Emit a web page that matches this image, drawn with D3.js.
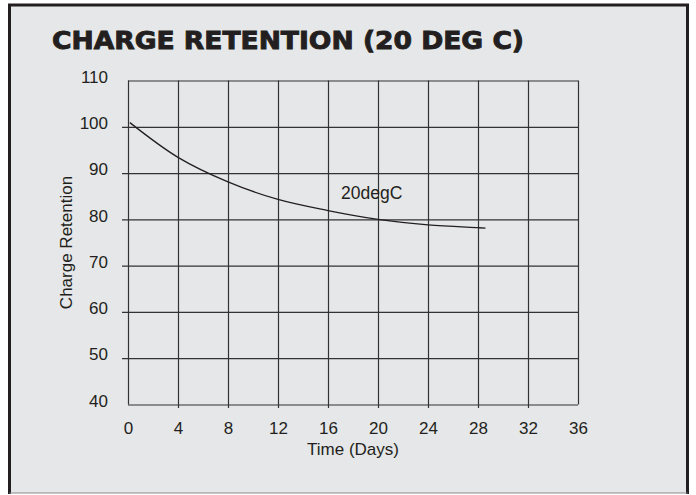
<!DOCTYPE html>
<html>
<head>
<meta charset="utf-8">
<script src="https://cdn.jsdelivr.net/npm/d3@7"></script>
<style>
  html, body { margin: 0; padding: 0; background: #fff; }
  svg { display: block; }
</style>
</head>
<body>
<div id="chart"></div>
<script>
// values
const days = [0.15, 4, 8, 12, 16, 20, 24, 28, 28.6];
const retention = [100.9, 93.4, 88.1, 84.3, 81.9, 80.0, 78.8, 78.2, 78.1];
const xTicks = [0, 4, 8, 12, 16, 20, 24, 28, 32, 36];
const yTicks = [40, 50, 60, 70, 80, 90, 100, 110];
const seriesName = "20degC";
const title = "CHARGE RETENTION (20 DEG C)";

const width = 696, height = 495;
const plot = { left: 128, right: 578, top: 80.5, bottom: 404.5 };
const ink = "#231f20";
const bodyFont = "'Liberation Sans', Arial, sans-serif";

const svg = d3.select("#chart").append("svg").attr("width", width).attr("height", height)
  .attr("font-family", bodyFont);

// panel + frame
svg.append("rect").attr("x", 9.5).attr("y", 5).attr("width", 678).attr("height", 488).attr("fill", "#e6e7e8");
svg.append("path").attr("d", "M9.5,494 V5 H687.5 V494").attr("fill", "none").attr("stroke", ink).attr("stroke-width", 3);
svg.append("line").attr("x1", 9.5).attr("x2", 687.5).attr("y1", 493).attr("y2", 493).attr("stroke", "#8a8a8a").attr("stroke-width", 1.2);

svg.append("text").attr("x", 52).attr("y", 49)
  .attr("font-family", "'DejaVu Sans', sans-serif").attr("font-weight", "bold").attr("font-size", 24)
  .attr("fill", ink).attr("stroke", ink).attr("stroke-width", 0.9)
  .attr("textLength", 472).attr("lengthAdjust", "spacingAndGlyphs")
  .text(title);

const x = d3.scaleLinear().domain([0, 36]).range([plot.left, plot.right]);
const y = d3.scaleLinear().domain([40, 110]).range([plot.bottom, plot.top]);

// y grid + labels
const yAxis = svg.append("g").attr("transform", `translate(${plot.left - 6},0)`)
  .call(d3.axisLeft(y).tickValues(yTicks).tickSize(-(plot.right - plot.left + 6)).tickPadding(14));
yAxis.select(".domain").remove();
yAxis.selectAll(".tick line").attr("stroke", "#333").attr("stroke-width", 1.2)
  .attr("x1", d => (d === 40 || d === 110) ? 6 : 0);
yAxis.selectAll(".tick text").attr("font-size", 17).attr("font-family", bodyFont)
  .attr("fill", ink).attr("dy", "0.1em");

// x grid + labels
const xAxis = svg.append("g").attr("transform", `translate(0,${plot.bottom + 3.5})`)
  .call(d3.axisBottom(x).tickValues(xTicks).tickSize(-(plot.bottom + 3.5 - plot.top)).tickPadding(14));
xAxis.select(".domain").remove();
xAxis.selectAll(".tick line").attr("stroke", "#333").attr("stroke-width", 1.2)
  .attr("y1", d => (d === 0 || d === 36) ? -3.5 : 0);
xAxis.selectAll(".tick text").attr("font-size", 17).attr("font-family", bodyFont)
  .attr("fill", ink);

// axis titles
svg.append("text").attr("x", (plot.left + plot.right) / 2).attr("y", 455)
  .attr("text-anchor", "middle").attr("font-size", 17).attr("fill", ink).text("Time (Days)");
svg.append("text").attr("transform", `translate(72,${(plot.top + plot.bottom) / 2}) rotate(-90)`)
  .attr("text-anchor", "middle").attr("font-size", 17).attr("fill", ink).text("Charge Retention");

// curve
const pts = days.map((d, i) => [d, retention[i]]);
svg.append("path").datum(pts)
  .attr("fill", "none").attr("stroke", ink).attr("stroke-width", 1.3)
  .attr("d", d3.line().x(d => x(d[0])).y(d => y(d[1])).curve(d3.curveCatmullRom));

svg.append("text").attr("x", x(19.5)).attr("y", 199)
  .attr("text-anchor", "middle").attr("font-size", 17.5).attr("fill", ink).text(seriesName);
</script>
</body>
</html>
